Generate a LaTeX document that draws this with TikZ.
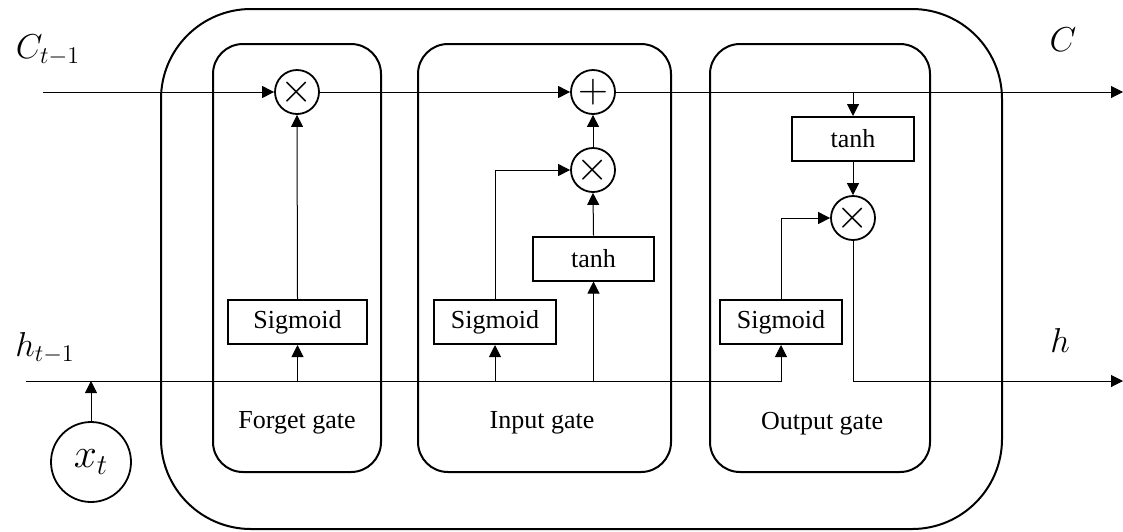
\documentclass[tikz,border=0pt]{standalone}
\usepackage{fontspec}
\setmainfont{Liberation Serif}
\usetikzlibrary{arrows.meta}
\tikzset{
  cell/.style={draw, line width=1pt, rounded corners=45pt},
  gatebox/.style={draw, line width=1pt, rounded corners=15pt},
  fnbox/.style={draw, line width=1pt, minimum height=22pt, inner sep=0pt,
    font=\fontsize{13}{15}\selectfont},
  op/.style={draw, circle, line width=0.9pt, minimum size=22pt, inner sep=0pt,
    font=\fontsize{21}{21}\selectfont},
  gatelabel/.style={font=\fontsize{13}{15}\selectfont},
  varlabel/.style={font=\fontsize{18}{21}\selectfont},
  wire/.style={line width=0.5pt},
  arr/.style={wire, -{Triangle[length=6pt,width=6pt]}},
}
\begin{document}
\begin{tikzpicture}[x=0.5pt,y=-0.5pt]
\useasboundingbox (0,0) rectangle (1123,531);

% outer cell and the three gate panels
\node[cell, minimum width=420.5pt, minimum height=260pt] (cellbox) at (581.5,269) {};
\node[gatebox, minimum width=84pt, minimum height=214pt] (fgate) at (297,258) {};
\node[gatebox, minimum width=126.5pt, minimum height=214pt] (igate) at (544.5,258) {};
\node[gatebox, minimum width=110pt, minimum height=214pt] (ogate) at (820,258) {};

\node[gatelabel] (flab) at (297,423) {Forget gate};
\node[gatelabel] (ilab) at (542,423) {Input gate};
\node[gatelabel] (olab) at (822,424) {Output gate};

% operators
\node[op] (fx) at (297,92) {$\times$};
\node[op] (ip) at (593,92) {$+$};
\node[op] (ix) at (593,170) {$\times$};
\node[op] (ox) at (853,218) {$\times$};

% activation boxes
\node[fnbox, minimum width=69.5pt] (fsig) at (297.5,322) {Sigmoid};
\node[fnbox, minimum width=61pt] (isig) at (495,322) {Sigmoid};
\node[fnbox, minimum width=60.5pt] (itanh) at (593.5,258.5) {tanh};
\node[fnbox, minimum width=61pt] (otanh) at (853,139) {tanh};
\node[fnbox, minimum width=61pt] (osig) at (781,322) {Sigmoid};

% input node
\node[draw, circle, line width=0.9pt, minimum size=40pt, inner sep=0pt,
  font=\fontsize{21}{24}\selectfont] (xt) at (91,462) {$x_t$};

% variable labels
\node[varlabel] (clab0) at (48,50) {$C_{t-1}$};
\node[varlabel] (clab) at (1063,40) {$C$};
\node[varlabel] (hlab0) at (45,348) {$h_{t-1}$};
\node[varlabel] (hlab) at (1060,340) {$h$};

% wire end points
\coordinate (cin) at (43,92);
\coordinate (cout) at (1123,92);
\coordinate (hin) at (26,381);
\coordinate (hout) at (1123,381);

% cell state path
\draw[arr] (cin) -- (fx.west);
\draw[arr] (fx.east) -- (ip.west);
\draw[arr] (ip.east) -- (cout);
\draw[arr] (otanh.north |- cin) -- (otanh.north);

% hidden state path
\draw[arr] (hin) -| (osig.south);
\draw[arr] (fsig.south |- hin) -- (fsig.south);
\draw[arr] (isig.south |- hin) -- (isig.south);
\draw[arr] (itanh.south |- hin) -- (itanh.south);
\draw[arr] (xt.north) -- (xt.north |- hin);

% forget gate
\draw[arr] (fsig.north) -- (fx.south);

% input gate
\draw[arr] (isig.north) |- (ix.west);
\draw[arr] (itanh.north) -- (ix.south);
\draw[arr] (ix.north) -- (ip.south);

% output gate
\draw[arr] (otanh.south) -- (ox.north);
\draw[arr] (osig.north) |- (ox.west);
\draw[arr] (ox.south) |- (hout);
\end{tikzpicture}
\end{document}
